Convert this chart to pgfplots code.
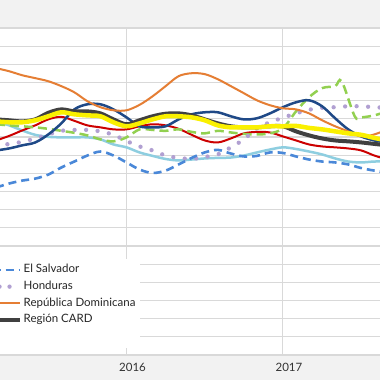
\documentclass[border=0pt]{standalone}
\usepackage{pgfplots}
\pgfplotsset{compat=1.18}
\usepackage{pgfplotstable}
\usepackage{fontspec}
\setmainfont{Lato}
\definecolor{bg}{RGB}{242,242,242}
\definecolor{gridc}{RGB}{217,217,217}
\definecolor{zeroc}{RGB}{166,166,166}
\definecolor{cRD}{RGB}{229,126,52}
\definecolor{cNav}{RGB}{31,73,135}
\definecolor{cCARD}{RGB}{64,64,64}
\definecolor{cYel}{RGB}{250,240,0}
\definecolor{cRed}{RGB}{204,0,0}
\definecolor{cLB}{RGB}{142,206,224}
\definecolor{cHon}{RGB}{177,160,210}
\definecolor{cSV}{RGB}{74,136,216}
\definecolor{cGT}{RGB}{146,208,80}

\pgfplotstableread{
m   rd   nav  card yel  red  lb   hon  sv
-10 7.79 3.26 4.97 4.86 3.81 4.86 3.48 1.22
-9  7.62 3.37 4.92 4.81 4.06 4.64 3.62 1.44
-8  7.40 3.54 4.86 4.81 4.36 4.36 3.73 1.60
-7  7.24 3.70 4.97 4.92 4.64 4.12 3.92 1.71
-6  7.07 4.14 5.33 5.14 4.97 4.01 4.14 1.93
-5  6.80 4.75 5.52 5.36 5.11 3.98 4.34 2.32
-4  6.46 5.52 5.41 5.25 4.89 3.98 4.39 2.65
-3  5.97 5.80 5.41 5.19 4.64 3.98 4.39 2.98
-2  5.64 5.80 5.30 5.14 4.53 3.87 4.31 3.20
-1  5.47 5.52 4.97 4.81 4.42 3.59 4.12 2.98
0   5.47 5.08 4.70 4.59 4.42 3.43 3.78 2.60
1   5.77 4.59 4.92 4.75 4.59 3.15 3.48 2.21
2   6.24 4.53 5.14 4.97 4.70 2.96 3.26 2.02
3   6.80 4.59 5.28 5.14 4.64 2.79 2.98 2.15
4   7.35 4.97 5.30 5.14 4.45 2.71 2.85 2.49
5   7.51 5.25 5.19 5.08 4.12 2.76 2.79 2.85
6   7.46 5.36 4.97 4.92 3.81 2.82 2.90 3.15
7   7.18 5.36 4.75 4.64 3.70 2.85 3.04 3.29
8   6.80 5.14 4.59 4.53 3.92 2.87 3.43 3.09
9   6.41 4.97 4.53 4.53 4.20 2.98 3.87 2.93
10  6.02 5.03 4.53 4.53 4.28 3.15 4.48 2.96
11  5.75 5.30 4.59 4.59 4.25 3.31 4.81 3.15
12  5.58 5.64 4.59 4.59 4.03 3.43 5.06 3.12
13  5.52 5.91 4.31 4.61 3.81 3.34 5.30 2.93
14  5.30 6.02 4.09 4.50 3.59 3.20 5.50 2.76
15  4.92 5.69 3.92 4.42 3.48 3.04 5.61 2.65
16  4.59 5.03 3.81 4.31 3.43 2.82 5.64 2.60
17  4.31 4.42 3.76 4.20 3.37 2.65 5.69 2.49
18  4.03 4.03 3.70 4.12 3.26 2.60 5.69 2.29
19  4.14 3.81 3.62 3.95 2.98 2.65 5.64 2.15
20  4.42 3.70 3.54 3.81 2.76 2.65 5.61 2.04
}\datatab

\pgfplotstableread{
m    gt
-10  4.70
-9   4.64
-8   4.59
-7   4.53
-6   4.45
-5   4.34
-4   4.23
-3   4.09
-2   3.87
-1   3.76
0    3.98
1    4.42
2    4.39
3    4.34
4    4.42
5    4.28
6    4.20
7    4.34
8    4.25
9    4.17
10   4.14
11   4.20
12   4.48
13   5.41
14   6.19
15   6.69
16   6.80
16.5 7.07
17.5 5.14
18   5.08
19   5.19
20   5.41
}\gttab

\begin{document}
\begin{tikzpicture}
\fill[bg] (0,0) rectangle (380pt,380pt);
\begin{axis}[
  at={(0pt,25pt)}, anchor=south west,
  width=380pt, height=327pt, scale only axis,
  xmin=-9.701, xmax=19.44, ymin=-8, ymax=10,
  axis background/.style={fill=white},
  axis line style={draw=none},
  major tick length=0pt,
  xtick={0,12}, xticklabels={2016,2017},
  xticklabel style={anchor=base, yshift=-16pt, xshift=6pt, font=\fontsize{11.5}{13}\selectfont, text=black!80},
  ytick={-8,-7,...,10}, yticklabels={},
  xmajorgrids, ymajorgrids,
  x grid style={draw=gridc, line width=1pt},
  y grid style={draw=gridc, line width=1.3pt},
  extra y ticks={0}, extra y tick labels={},
  extra y tick style={grid style={draw=zeroc, line width=2pt}},
  legend style={at={(axis cs:-11.68,-2.71)}, anchor=north west, draw=none, fill=white,
    inner xsep=3pt, inner ysep=2.5pt, row sep=0pt,
    font=\fontsize{11.5}{13}\selectfont, text=black!85,
    nodes={inner ysep=2.1pt, text height=9pt, text depth=3.5pt}},
  legend cell align=left,
  legend image code/.code={\draw[#1] (0pt,0pt) -- (40pt,0pt);},
  every axis plot/.append style={smooth, tension=0.55},
]
\addplot[forget plot, cLB, line width=2.5pt] table[x=m, y=lb] {\datatab};
\addplot[forget plot, cRed, line width=2pt] table[x=m, y=red] {\datatab};
\addplot[forget plot, cGT, line width=2.5pt, dash pattern=on 9pt off 5pt] table[x=m, y=gt] {\gttab};
\addplot[forget plot, cHon, line width=4.3pt, line cap=round, dash pattern=on 0pt off 11.5pt] table[x=m, y=hon] {\datatab};
\addplot[forget plot, cSV, line width=2.6pt, dash pattern=on 8pt off 5pt] table[x=m, y=sv] {\datatab};
\addplot[forget plot, cNav, line width=2.5pt] table[x=m, y=nav] {\datatab};
\addplot[forget plot, cRD, line width=2pt] table[x=m, y=rd] {\datatab};
\addplot[forget plot, cCARD, line width=4pt] table[x=m, y=card] {\datatab};
\addplot[forget plot, cYel, line width=4.5pt] table[x=m, y=yel] {\datatab};

\addlegendimage{cSV, line width=2.6pt, dash pattern=on 8pt off 5pt}
\addlegendentry{El Salvador}
\addlegendimage{cHon, line width=4.3pt, line cap=round, dash pattern=on 0pt off 10pt}
\addlegendentry{Honduras}
\addlegendimage{cRD, line width=2pt}
\addlegendentry{República Dominicana}
\addlegendimage{cCARD, line width=4pt}
\addlegendentry{Región CARD}
\addlegendimage{empty legend}
\addlegendentry{}
\end{axis}
\pgfresetboundingbox
\path[use as bounding box] (0,0) rectangle (380pt,380pt);
\end{tikzpicture}
\end{document}
